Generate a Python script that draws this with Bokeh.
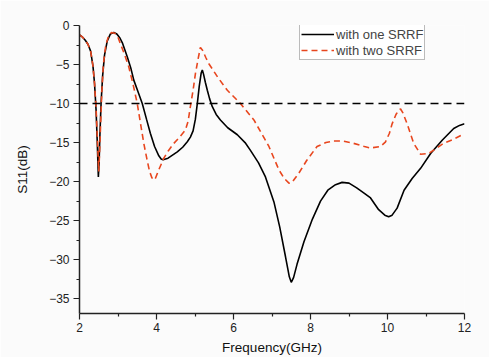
from bokeh.plotting import figure
from bokeh.models import Range1d, Span, Legend, LegendItem, FixedTicker
from bokeh.embed import file_html
from bokeh.resources import INLINE

# Data
freq_one = [2.0, 2.08, 2.15, 2.22, 2.29, 2.35, 2.39, 2.43, 2.46, 2.49, 2.51, 2.53, 2.56, 2.6, 2.65,
            2.72, 2.8, 2.89, 2.97, 3.05, 3.12, 3.24, 3.33, 3.41, 3.52, 3.63, 3.74, 3.84, 3.95,
            4.06, 4.12, 4.17, 4.3, 4.54, 4.68, 4.8, 4.88, 4.95, 5.01, 5.06, 5.11, 5.16,
            5.19, 5.22, 5.27, 5.32, 5.38, 5.45, 5.55, 5.66, 5.85, 6.1, 6.3, 6.44, 6.65, 6.83, 7.05,
            7.2, 7.35, 7.45, 7.5, 7.56, 7.65, 7.83, 8.05, 8.26, 8.45, 8.65, 8.82, 9.0, 9.2,
            9.4, 9.56, 9.77, 9.93, 10.03, 10.12, 10.25, 10.43, 10.64, 10.86, 11.12, 11.42, 11.72, 11.87, 12.0]
s11_one = [-1.2, -1.5, -1.9, -2.4, -3.3, -5.2, -7.4, -10.8, -14.8, -19.4, -17.5, -14.0, -10.0, -6.5, -3.8,
           -2.0, -1.1, -0.9, -1.1, -1.6, -2.3, -4.0, -5.4, -7.0, -8.5, -10.0, -12.0, -13.8, -15.5,
           -16.7, -17.1, -17.2, -17.0, -16.2, -15.6, -14.9, -14.3, -13.5, -12.0, -10.0, -7.8, -6.1,
           -5.7, -6.2, -7.3, -8.3, -9.4, -10.4, -11.4, -12.1, -13.1, -14.0, -15.0, -16.0, -17.6, -19.4, -22.6,
           -25.8, -29.6, -32.2, -32.9, -32.3, -30.6, -27.7, -24.8, -22.5, -21.1, -20.4, -20.1, -20.2, -20.8,
           -21.5, -22.1, -23.6, -24.3, -24.5, -24.3, -23.4, -21.1, -19.6, -18.3, -16.4, -14.7, -13.2, -12.8, -12.6]

freq_two = [2.0, 2.08, 2.15, 2.22, 2.29, 2.35, 2.39, 2.43, 2.46, 2.5, 2.52, 2.55, 2.58, 2.62, 2.68,
            2.75, 2.83, 2.92, 3.0, 3.06, 3.17, 3.28, 3.39, 3.5, 3.59, 3.67, 3.75, 3.82, 3.88,
            3.93, 3.97, 4.05, 4.19, 4.3, 4.45, 4.6, 4.75, 4.82, 4.88, 4.95, 5.01, 5.08, 5.14,
            5.2, 5.28, 5.36, 5.6, 5.84, 6.18, 6.53, 6.92, 7.18, 7.32, 7.44,
            7.52, 7.7, 7.9, 8.17, 8.4, 8.6, 8.85, 9.12, 9.4, 9.56, 9.82, 9.95, 10.05, 10.12,
            10.22, 10.3, 10.34, 10.4, 10.51, 10.68, 10.86, 11.07, 11.25, 11.45, 11.7, 11.94, 12.0]
s11_two = [-1.2, -1.5, -1.9, -2.4, -3.3, -5.2, -7.4, -10.5, -14.0, -18.7, -16.5, -12.5, -8.5, -5.0, -2.6,
           -1.4, -0.9, -1.0, -1.5, -2.3, -3.7, -5.3, -7.5, -10.0, -12.7, -15.1, -17.1, -18.7, -19.5,
           -19.8, -19.6, -18.6, -17.0, -16.1, -15.1, -14.3, -13.4, -12.3, -10.4, -8.3, -6.2, -4.3, -2.8,
           -3.2, -4.1, -4.9, -6.7, -8.3, -10.0, -12.1, -15.5, -18.5, -19.6, -20.2,
           -20.1, -18.9, -17.3, -15.5, -15.0, -14.8, -14.8, -15.1, -15.5, -15.7, -15.5, -14.9, -13.8, -12.6,
           -11.4, -10.8, -10.7, -11.2, -12.6, -15.1, -16.5, -16.4, -15.8, -15.1, -14.6, -14.0, -13.9]

ref_level = -10
x_ticks = [2, 4, 6, 8, 10, 12]
y_ticks = [0, -5, -10, -15, -20, -25, -30, -35]

FONT = "Liberation Sans"
BG = "#fbfbfb"

p = figure(width=489, height=357, output_backend="svg", toolbar_location=None,
           x_range=Range1d(2, 12), y_range=Range1d(-36.9, 0),
           min_border_left=79, min_border_right=25, min_border_top=25, min_border_bottom=43,
           background_fill_color=BG, border_fill_color=BG, outline_line_color=None)

p.xgrid.visible = False
p.ygrid.visible = False

span = Span(location=ref_level, dimension="width", line_color="black",
            line_dash="8 5", line_width=1.5)
p.add_layout(span)

r1 = p.line(freq_one, s11_one, line_color="black", line_width=1.6)
r2 = p.line(freq_two, s11_two, line_color="#e8461e", line_width=1.6, line_dash="6 4")

for ax in (p.xaxis[0], p.yaxis[0]):
    ax.axis_line_color = "#222222"
    ax.axis_line_width = 1.5
    ax.major_tick_line_color = "#222222"
    ax.minor_tick_line_color = "#222222"
    ax.major_tick_line_width = 1.2
    ax.minor_tick_line_width = 1.2
    ax.major_tick_in = 0
    ax.major_tick_out = 6
    ax.minor_tick_in = 0
    ax.minor_tick_out = 3
    ax.major_label_text_font = FONT
    ax.major_label_text_font_size = "12px"
    ax.major_label_text_color = "#222222"
    ax.axis_label_text_font = FONT
    ax.axis_label_text_font_size = "13.5px"
    ax.axis_label_text_font_style = "normal"
    ax.axis_label_text_color = "#111111"

p.xaxis[0].ticker = FixedTicker(ticks=x_ticks, minor_ticks=[3, 5, 7, 9, 11])
p.yaxis[0].ticker = FixedTicker(ticks=y_ticks, minor_ticks=[-2.5, -7.5, -12.5, -17.5, -22.5, -27.5, -32.5])
p.xaxis[0].major_label_standoff = 3
p.yaxis[0].major_label_standoff = 4
p.xaxis[0].axis_label = "Frequency(GHz)"
p.yaxis[0].axis_label = "S11(dB)"
p.xaxis[0].axis_label_standoff = 5
p.yaxis[0].axis_label_standoff = 16

legend = Legend(items=[LegendItem(label="with one SRRF", renderers=[r1]),
                       LegendItem(label="with two SRRF", renderers=[r2])],
                location=(220, 253), label_text_font=FONT, label_text_font_size="13px",
                label_height=16, glyph_height=16, glyph_width=33, label_standoff=2,
                padding=1, spacing=0, margin=0,
                border_line_color="#777777", border_line_width=1,
                background_fill_color="white", background_fill_alpha=1)
p.add_layout(legend)

open("out.html", "w").write(file_html(p, INLINE))
